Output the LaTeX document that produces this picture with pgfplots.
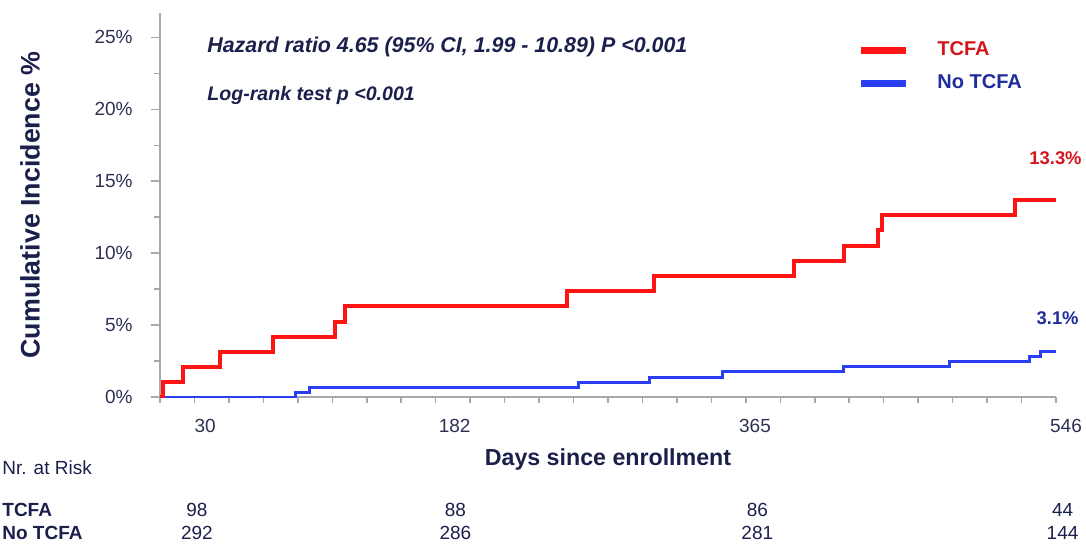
\documentclass[border=0pt]{standalone}
\usepackage{fontspec}
\setmainfont{Liberation Sans}
\usepackage{pgfplots}
\usepackage{pgfplotstable}
\pgfplotsset{compat=1.18}
\definecolor{navy}{HTML}{1B1F4B}
\definecolor{tickc}{HTML}{2E3052}
\definecolor{linered}{HTML}{FF1414}
\definecolor{lineblue}{HTML}{2B3FF2}
\definecolor{txtred}{HTML}{D5151C}
\definecolor{txtblue}{HTML}{1F2D9C}
\definecolor{axgray}{HTML}{A8A8A8}

\pgfplotstableread{
day inc
0     0
2.0   1.07
13.8  2.10
36.6  3.15
68.7  4.20
106.8 5.24
113.0 6.30
248.0 7.35
301.0 8.43
386.5 9.47
416.7 10.50
437.5 11.58
440.0 12.63
520.8 13.72
546.0 13.72
}\tcfa

\pgfplotstableread{
day inc
0     0
82.7  0.30
90.8  0.68
255.3 1.00
298.0 1.39
343.0 1.74
416.7 2.09
481.4 2.44
530.0 2.79
536.5 3.18
546.0 3.18
}\notcfa

\begin{document}
\begin{tikzpicture}
\useasboundingbox (-80pt,-74.5pt) rectangle (463pt,198.5pt);
\begin{axis}[
  at={(0pt,0pt)}, anchor=south west,
  width=448pt, height=192pt, scale only axis,
  xmin=0, xmax=546, ymin=0, ymax=26.7,
  axis x line*=bottom, axis y line*=left,
  axis line style={draw=axgray, line width=1pt, -},
  tick style={draw=axgray, line width=0.8pt},
  tick align=outside,
  major tick length=4.5pt, minor tick length=3pt,
  xtick={30,182,365,546},
  xticklabels={\hspace*{-4pt}30,\hspace*{-4pt}182,\hspace*{-4pt}365,\hspace*{10pt}546},
  minor xtick={0,21,...,546},
  major x tick style={draw=none},
  ytick={0,5,10,15,20,25},
  yticklabels={0\%,5\%,10\%,15\%,20\%,25\%},
  minor ytick={2.5,7.5,12.5,17.5,22.5},
  /pgf/number format/assume math mode=true,
  ticklabel style={font=\fontsize{9.5}{11}\selectfont, text=tickc, inner sep=0pt},
  xticklabel style={anchor=north, yshift=-6.5pt},
  yticklabel style={anchor=east, xshift=-9pt},
  clip mode=individual,
  legend image code/.code={\draw[#1] (0pt,0pt) -- (22.5pt,0pt);},
  legend style={draw=none, fill=none, at={(axis description cs:0.7712,0.8600)}, anchor=west,
    font=\fontsize{10}{12}\selectfont\bfseries, nodes={inner sep=0pt}, row sep=8.2pt, column sep=14pt},
  legend cell align=left,
]
\addlegendimage{draw=linered, line width=3.5pt}
\addlegendentry{\textcolor{txtred}{TCFA}}
\addlegendimage{draw=lineblue, line width=3.5pt}
\addlegendentry{\textcolor{txtblue}{No TCFA}}

\addplot[const plot, draw=lineblue, line width=1.5pt, forget plot] table[x=day, y=inc] {\notcfa};
\addplot[const plot, draw=linered, line width=2pt, forget plot] table[x=day, y=inc] {\tcfa};

% annotations
\node[anchor=west, inner sep=0pt, text=navy, font=\fontsize{10.7}{12}\selectfont\bfseries\itshape]
  at (axis description cs:0,0) [xshift=23.5pt, yshift=175pt] {Hazard ratio 4.65 (95\% CI, 1.99 - 10.89) P <0.001};
\node[anchor=west, inner sep=0pt, text=navy, font=\fontsize{9.8}{12}\selectfont\bfseries\itshape]
  at (axis description cs:0,0) [xshift=23.5pt, yshift=151pt] {Log-rank test p <0.001};

% end-point labels
\node[anchor=east, inner sep=0pt, text=txtred, font=\fontsize{9.2}{11}\selectfont\bfseries]
  at (axis cs:546,16.64) [xshift=13pt] {13.3\%};
\node[anchor=east, inner sep=0pt, text=txtblue, font=\fontsize{9.2}{11}\selectfont\bfseries]
  at (axis cs:546,5.5) [xshift=11.5pt] {3.1\%};

% axis titles
\node[rotate=90, inner sep=0pt, text=navy, font=\fontsize{13.4}{15}\selectfont\bfseries]
  at (axis description cs:-0.1451,0.5) {Cumulative Incidence \%};
\node[inner sep=0pt, text=navy, font=\fontsize{11.6}{14}\selectfont\bfseries]
  at (axis description cs:0.5,0) [yshift=-31pt] {Days since enrollment};

% numbers at risk
\node[anchor=west, inner sep=0pt, text=navy, font=\fontsize{9.5}{11}\selectfont]
  at (axis description cs:0,0) [xshift=-79pt, yshift=-35.5pt] {Nr. at Risk};
\node[anchor=west, inner sep=0pt, text=navy, font=\fontsize{9.5}{11}\selectfont\bfseries]
  at (axis description cs:0,0) [xshift=-79pt, yshift=-56.5pt] {TCFA};
\node[anchor=west, inner sep=0pt, text=navy, font=\fontsize{9.5}{11}\selectfont\bfseries]
  at (axis description cs:0,0) [xshift=-79pt, yshift=-68pt] {No TCFA};
\node[inner sep=0pt, text=navy, font=\fontsize{9.5}{11}\selectfont] at (axis cs:22.5,0) [yshift=-56.5pt] {98};
\node[inner sep=0pt, text=navy, font=\fontsize{9.5}{11}\selectfont] at (axis cs:180,0) [yshift=-56.5pt] {88};
\node[inner sep=0pt, text=navy, font=\fontsize{9.5}{11}\selectfont] at (axis cs:364,0) [yshift=-56.5pt] {86};
\node[inner sep=0pt, text=navy, font=\fontsize{9.5}{11}\selectfont] at (axis cs:550,0) [yshift=-56.5pt] {44};
\node[inner sep=0pt, text=navy, font=\fontsize{9.5}{11}\selectfont] at (axis cs:22.5,0) [yshift=-68pt] {292};
\node[inner sep=0pt, text=navy, font=\fontsize{9.5}{11}\selectfont] at (axis cs:180,0) [yshift=-68pt] {286};
\node[inner sep=0pt, text=navy, font=\fontsize{9.5}{11}\selectfont] at (axis cs:364,0) [yshift=-68pt] {281};
\node[inner sep=0pt, text=navy, font=\fontsize{9.5}{11}\selectfont] at (axis cs:550,0) [yshift=-68pt] {144};
\end{axis}
\end{tikzpicture}
\end{document}
